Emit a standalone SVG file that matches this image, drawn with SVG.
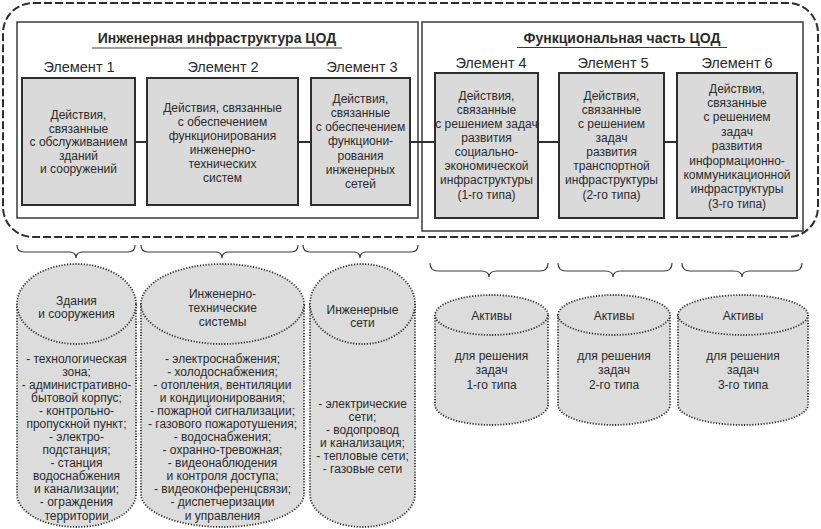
<svg xmlns="http://www.w3.org/2000/svg" width="821" height="529" viewBox="0 0 821 529">
<style>
text{font-family:"Liberation Sans",Arial,sans-serif;fill:#2b2b2b;text-anchor:middle}
.t{font-size:12px}
.el{font-size:14.5px}
.ttl{font-size:14px;font-weight:bold}
.box{fill:#dadada;stroke:#2e2e2e;stroke-width:2}
.grp{fill:none;stroke:#3a3a3a;stroke-width:1.5}
.outer{fill:none;stroke:#2e2e2e;stroke-width:2;stroke-dasharray:8 3}
.conn{stroke:#2e2e2e;stroke-width:2;fill:none}
.brace{stroke:#3a3a3a;stroke-width:1.2;fill:none}
.cyl{fill:#dcdcdc;stroke:#2e2e2e;stroke-width:1.8;stroke-dasharray:1.2 1.6}
.ul{stroke:#3a3a3a;stroke-width:1}
</style>
<rect class="outer" x="3" y="3" width="815" height="234" rx="30" ry="30"/>
<g id="group-engineering">
<rect class="grp" x="17" y="22" width="401" height="196"/>
<text class="ttl" x="217" y="43">Инженерная инфраструктура ЦОД</text>
<line class="ul" x1="92" y1="48" x2="342" y2="48"/>
</g>
<g id="group-functional">
<rect class="grp" x="422" y="22" width="381" height="209"/>
<text class="ttl" x="622" y="43">Функциональная часть ЦОД</text>
<line class="ul" x1="517" y1="47.5" x2="727" y2="47.5"/>
</g>
<g id="connectors">
<line class="conn" x1="135" y1="142" x2="147" y2="142"/>
<line class="conn" x1="298" y1="142" x2="311" y2="142"/>
<line class="conn" x1="410" y1="142" x2="435" y2="142"/>
<line class="conn" x1="538" y1="142" x2="559" y2="142"/>
<line class="conn" x1="664" y1="142" x2="677" y2="142"/>
</g>
<g id="element1">
<text class="el" x="79" y="72">Элемент 1</text>
<rect class="box" x="22" y="78" width="113" height="127"/>
<text class="t" x="78.5" y="119">Действия,</text>
<text class="t" x="78.5" y="132.5">связанные</text>
<text class="t" x="78.5" y="146">с обслуживанием</text>
<text class="t" x="78.5" y="159.5">зданий</text>
<text class="t" x="78.5" y="173">и сооружений</text>
</g>
<g id="element2">
<text class="el" x="223" y="72">Элемент 2</text>
<rect class="box" x="147" y="78" width="151" height="127"/>
<text class="t" x="222.5" y="111.5">Действия, связанные</text>
<text class="t" x="222.5" y="125.5">с обеспечением</text>
<text class="t" x="222.5" y="139.5">функционирования</text>
<text class="t" x="222.5" y="153.5">инженерно-</text>
<text class="t" x="222.5" y="167.5">технических</text>
<text class="t" x="222.5" y="181.5">систем</text>
</g>
<g id="element3">
<text class="el" x="362" y="72">Элемент 3</text>
<rect class="box" x="311" y="78" width="99" height="127"/>
<text class="t" x="360.5" y="102.5">Действия,</text>
<text class="t" x="360.5" y="116.8">связанные</text>
<text class="t" x="360.5" y="131.1">с обеспечением</text>
<text class="t" x="360.5" y="145.4">функциони-</text>
<text class="t" x="360.5" y="159.7">рования</text>
<text class="t" x="360.5" y="174">инженерных</text>
<text class="t" x="360.5" y="188.3">сетей</text>
</g>
<g id="element4">
<text class="el" x="491" y="68">Элемент 4</text>
<rect class="box" x="435" y="73" width="103" height="145"/>
<text class="t" x="486.5" y="99.5">Действия,</text>
<text class="t" x="486.5" y="113.6">связанные</text>
<text class="t" x="486.5" y="127.8">с решением задач</text>
<text class="t" x="486.5" y="141.9">развития</text>
<text class="t" x="486.5" y="156.1">социально-</text>
<text class="t" x="486.5" y="170.2">экономической</text>
<text class="t" x="486.5" y="184.3">инфраструктуры</text>
<text class="t" x="486.5" y="198.5">(1-го типа)</text>
</g>
<g id="element5">
<text class="el" x="613" y="68">Элемент 5</text>
<rect class="box" x="559" y="73" width="105" height="145"/>
<text class="t" x="611.5" y="99.5">Действия,</text>
<text class="t" x="611.5" y="113.6">связанные</text>
<text class="t" x="611.5" y="127.8">с решением</text>
<text class="t" x="611.5" y="141.9">задач</text>
<text class="t" x="611.5" y="156.1">развития</text>
<text class="t" x="611.5" y="170.2">транспортной</text>
<text class="t" x="611.5" y="184.3">инфраструктуры</text>
<text class="t" x="611.5" y="198.5">(2-го типа)</text>
</g>
<g id="element6">
<text class="el" x="737" y="68">Элемент 6</text>
<rect class="box" x="677" y="73" width="120" height="145"/>
<text class="t" x="737" y="92.5">Действия,</text>
<text class="t" x="737" y="106.9">связанные</text>
<text class="t" x="737" y="121.3">с решением</text>
<text class="t" x="737" y="135.7">задач</text>
<text class="t" x="737" y="150.1">развития</text>
<text class="t" x="737" y="164.5">информационно-</text>
<text class="t" x="737" y="178.9">коммуникационной</text>
<text class="t" x="737" y="193.3">инфраструктуры</text>
<text class="t" x="737" y="207.7">(3-го типа)</text>
</g>
<g id="braces">
<path class="brace" d="M17 245 Q17 252 24 252 L69 252 Q76 252 76 258 Q76 252 83 252 L128 252 Q135 252 135 245"/>
<path class="brace" d="M141 245 Q141 252 148 252 L215 252 Q222 252 222 258 Q222 252 229 252 L291 252 Q298 252 298 245"/>
<path class="brace" d="M303 245 Q303 252 310 252 L353 252 Q360 252 360 258 Q360 252 367 252 L411 252 Q418 252 418 245"/>
<path class="brace" d="M430 263 Q430 271 438 271 L481 271 Q489 271 489 277 Q489 271 497 271 L540 271 Q548 271 548 263"/>
<path class="brace" d="M558 263 Q558 271 566 271 L605 271 Q613 271 613 277 Q613 271 621 271 L664 271 Q672 271 672 263"/>
<path class="brace" d="M682 263 Q682 271 690 271 L734 271 Q742 271 742 277 Q742 271 750 271 L794 271 Q802 271 802 263"/>
</g>
<g id="cyl-buildings">
<path class="cyl" d="M17 304 V494 A59.5 33 0 0 0 136 494 V304"/>
<ellipse class="cyl" cx="76.5" cy="304" rx="59.5" ry="40"/>
<text class="t" x="76.5" y="304.5">Здания</text>
<text class="t" x="76.5" y="317.5">и сооружения</text>
<text class="t" x="76.5" y="362.5">- технологическая</text>
<text class="t" x="76.5" y="375.6">зона;</text>
<text class="t" x="76.5" y="388.7">- административно-</text>
<text class="t" x="76.5" y="401.7">бытовой корпус;</text>
<text class="t" x="76.5" y="414.8">- контрольно-</text>
<text class="t" x="76.5" y="427.9">пропускной пункт;</text>
<text class="t" x="76.5" y="441">- электро-</text>
<text class="t" x="76.5" y="454.1">подстанция;</text>
<text class="t" x="76.5" y="467.1">- станция</text>
<text class="t" x="76.5" y="480.2">водоснабжения</text>
<text class="t" x="76.5" y="493.3">и канализации;</text>
<text class="t" x="76.5" y="506.4">- ограждения</text>
<text class="t" x="76.5" y="519.5">территории</text>
</g>
<g id="cyl-systems">
<path class="cyl" d="M141 304 V494 A81.5 33 0 0 0 304 494 V304"/>
<ellipse class="cyl" cx="222.5" cy="304" rx="81.5" ry="40"/>
<text class="t" x="222.5" y="297.5">Инженерно-</text>
<text class="t" x="222.5" y="311.5">технические</text>
<text class="t" x="222.5" y="325.5">системы</text>
<text class="t" x="222.5" y="362.5">- электроснабжения;</text>
<text class="t" x="222.5" y="375.6">- холодоснабжения;</text>
<text class="t" x="222.5" y="388.7">- отопления, вентиляции</text>
<text class="t" x="222.5" y="401.7">и кондиционирования;</text>
<text class="t" x="222.5" y="414.8">- пожарной сигнализации;</text>
<text class="t" x="222.5" y="427.9">- газового пожаротушения;</text>
<text class="t" x="222.5" y="441">- водоснабжения;</text>
<text class="t" x="222.5" y="454.1">- охранно-тревожная;</text>
<text class="t" x="222.5" y="467.1">- видеонаблюдения</text>
<text class="t" x="222.5" y="480.2">и контроля доступа;</text>
<text class="t" x="222.5" y="493.3">- видеоконференцсвязи;</text>
<text class="t" x="222.5" y="506.4">- диспетчеризации</text>
<text class="t" x="222.5" y="519.5">и управления</text>
</g>
<g id="cyl-networks">
<path class="cyl" d="M310 304 V494 A52.5 33 0 0 0 415 494 V304"/>
<ellipse class="cyl" cx="362.5" cy="304" rx="52.5" ry="40"/>
<text class="t" x="362.5" y="314">Инженерные</text>
<text class="t" x="362.5" y="327">сети</text>
<text class="t" x="362.5" y="407.5">- электрические</text>
<text class="t" x="362.5" y="420.5">сети;</text>
<text class="t" x="362.5" y="433.5">- водопровод</text>
<text class="t" x="362.5" y="446.5">и канализация;</text>
<text class="t" x="362.5" y="459.5">- тепловые сети;</text>
<text class="t" x="362.5" y="472.5">- газовые сети</text>
</g>
<g id="cyl-assets1">
<path class="cyl" d="M435 315 V405 A56.5 20 0 0 0 548 405 V315"/>
<ellipse class="cyl" cx="491.5" cy="315" rx="56.5" ry="20"/>
<text class="t" x="491.5" y="319.5">Активы</text>
<text class="t" x="491.5" y="359.5">для решения</text>
<text class="t" x="491.5" y="374">задач</text>
<text class="t" x="491.5" y="388.5">1-го типа</text>
</g>
<g id="cyl-assets2">
<path class="cyl" d="M558 315 V405 A56 20 0 0 0 670 405 V315"/>
<ellipse class="cyl" cx="614" cy="315" rx="56" ry="20"/>
<text class="t" x="614" y="319.5">Активы</text>
<text class="t" x="614" y="359.5">для решения</text>
<text class="t" x="614" y="374">задач</text>
<text class="t" x="614" y="388.5">2-го типа</text>
</g>
<g id="cyl-assets3">
<path class="cyl" d="M678 315 V405 A65 20 0 0 0 808 405 V315"/>
<ellipse class="cyl" cx="743" cy="315" rx="65" ry="20"/>
<text class="t" x="743" y="319.5">Активы</text>
<text class="t" x="743" y="359.5">для решения</text>
<text class="t" x="743" y="374">задач</text>
<text class="t" x="743" y="388.5">3-го типа</text>
</g>
</svg>
